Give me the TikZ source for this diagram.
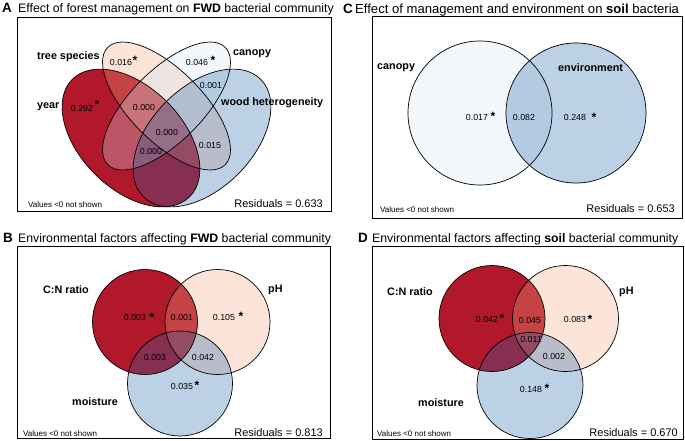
\documentclass[tikz,border=0pt]{standalone}
\usepackage{fontspec}
\setmainfont{Liberation Sans}
\definecolor{cnred}{HTML}{B2182B}
\definecolor{peach}{HTML}{F4A582}
\definecolor{paleblue}{HTML}{D1E5F0}
\definecolor{deepblue}{HTML}{2166AC}

\begin{document}
\begin{tikzpicture}[x=1pt,y=-1pt]
\tikzstyle{every node}+=[inner sep=0pt]
\tikzstyle{panel}=[font=\bfseries\fontsize{13.5}{13.5}\selectfont, anchor=base west]
\tikzstyle{title}=[font=\fontsize{12.3}{12.3}\selectfont, anchor=base west]
\tikzstyle{setlab}=[font=\bfseries\fontsize{10.8}{10.8}\selectfont, anchor=west]
\tikzstyle{val}=[font=\fontsize{8.8}{8.8}\selectfont]
\tikzstyle{sig}=[font=\bfseries\fontsize{12}{12}\selectfont, yshift=-2.9pt]
\tikzstyle{note}=[font=\fontsize{8}{8}\selectfont, anchor=base west]
\tikzstyle{resid}=[font=\fontsize{11}{11}\selectfont, anchor=base east]
\tikzstyle{frame}=[line width=0.8pt]
\tikzstyle{rim}=[line width=0.7pt]
\tikzstyle{redset}=[fill=cnred]
\tikzstyle{peachset}=[fill=peach, fill opacity=0.3]
\tikzstyle{paleset}=[fill=paleblue, fill opacity=0.3]
\tikzstyle{blueset}=[fill=deepblue, fill opacity=0.3]
\useasboundingbox (0,0) rectangle (685,440);
% panel A
\draw (2,12) node [panel] (pA) {A};
\draw (18,12) node [title] (tA) {Effect of forest management on \textbf{FWD} bacterial community};
\draw [frame] (17,17) rectangle (331,211);
\fill [redset] (131,138) ellipse [x radius=83, y radius=51, rotate=-45];
\fill [peachset] (166.5,106) ellipse [x radius=83, y radius=36, rotate=-45];
\fill [paleset] (166.5,106) ellipse [x radius=83, y radius=36, rotate=45];
\fill [blueset] (202,138) ellipse [x radius=83, y radius=51, rotate=45];
\draw [rim] (131,138) ellipse [x radius=83, y radius=51, rotate=-45];
\draw [rim] (166.5,106) ellipse [x radius=83, y radius=36, rotate=-45];
\draw [rim] (166.5,106) ellipse [x radius=83, y radius=36, rotate=45];
\draw [rim] (202,138) ellipse [x radius=83, y radius=51, rotate=45];
\draw (37,57) node [setlab] (lTree) {tree species};
\draw (233,54) node [setlab] (lCanA) {canopy};
\draw (37,107) node [setlab] (lYear) {year};
\draw (221,103) node [setlab] (lWood) {wood heterogeneity};
\draw (121,62) node [val] (vA1) {0.016};
\draw (135,57) node [sig] (sA1) {*};
\draw (197,62) node [val] (vA2) {0.046};
\draw (213,57) node [sig] (sA2) {*};
\draw (82,108) node [val] (vA3) {0.292};
\draw (97,101) node [sig] (sA3) {*};
\draw (211,85) node [val] (vA4) {0.001};
\draw (144,107) node [val] (vA5) {0.000};
\draw (167,132) node [val] (vA6) {0.000};
\draw (210,145) node [val] (vA7) {0.015};
\draw (151,151) node [val] (vA8) {0.000};
\draw (28,207) node [note] (nA) {Values <0 not shown};
\draw (323,207) node [resid] (rA) {Residuals = 0.633};
% panel C
\draw (343,13) node [panel] (pC) {C};
\draw (355,13) node [title, font=\fontsize{13.1}{13.1}\selectfont] (tC) {Effect of management and environment on \textbf{soil} bacteria};
\draw [frame] (372,16) rectangle (682,218);
\fill [paleset] (480,113) circle (72);
\fill [blueset] (576,113) circle (70);
\draw [rim] (480,113) circle (72);
\draw [rim] (576,113) circle (70);
\draw (377,68) node [setlab] (lCanC) {canopy};
\draw (558,68) node [setlab] (lEnv) {environment};
\draw (477,117) node [val] (vC1) {0.017};
\draw (493,113) node [sig] (sC1) {*};
\draw (524,117) node [val] (vC2) {0.082};
\draw (575,117) node [val] (vC3) {0.248};
\draw (594,114) node [sig] (sC3) {*};
\draw (380,212) node [note] (nC) {Values <0 not shown};
\draw (675,212) node [resid] (rC) {Residuals = 0.653};
% panel B
\draw (3,242) node [panel] (pB) {B};
\draw (18,242) node [title] (tB) {Environmental factors affecting \textbf{FWD} bacterial community};
\draw [frame] (17,246) rectangle (330,438);
\fill [redset] (145,322) circle (52.5);
\fill [peachset] (217.5,322) circle (52.5);
\fill [blueset] (180,383.5) circle (52.5);
\draw [rim] (145,322) circle (52.5);
\draw [rim] (217.5,322) circle (52.5);
\draw [rim] (180,383.5) circle (52.5);
\draw (43,290) node [setlab] (lCnB) {C:N ratio};
\draw (268,290) node [setlab] (lPhB) {pH};
\draw (72,402) node [setlab] (lMoB) {moisture};
\draw (135,317) node [val] (vB1) {0.003};
\draw (152,314) node [sig] (sB1) {*};
\draw (182,317) node [val] (vB2) {0.001};
\draw (224,317) node [val] (vB3) {0.105};
\draw (241,313) node [sig] (sB3) {*};
\draw (155,357) node [val] (vB4) {0.003};
\draw (203,357) node [val] (vB5) {0.042};
\draw (182,386) node [val] (vB6) {0.035};
\draw (197,382) node [sig] (sB6) {*};
\draw (23,436) node [note] (nB) {Values <0 not shown};
\draw (323,436) node [resid] (rB) {Residuals = 0.813};
% panel D
\draw (358,242) node [panel] (pD) {D};
\draw (372,242) node [title] (tD) {Environmental factors affecting \textbf{soil} bacterial community};
\draw [frame] (372,246) rectangle (683,439);
\fill [redset] (492,318.5) circle (53);
\fill [peachset] (565.5,318.5) circle (53);
\fill [blueset] (530,385.5) circle (53);
\draw [rim] (492,318.5) circle (53);
\draw [rim] (565.5,318.5) circle (53);
\draw [rim] (530,385.5) circle (53);
\draw (387,292) node [setlab] (lCnD) {C:N ratio};
\draw (619,292) node [setlab] (lPhD) {pH};
\draw (418,403) node [setlab] (lMoD) {moisture};
\draw (487,319) node [val] (vD1) {0.042};
\draw (502,315) node [sig] (sD1) {*};
\draw (530,320) node [val] (vD2) {0.045};
\draw (575,319) node [val] (vD3) {0.083};
\draw (590,316) node [sig] (sD3) {*};
\draw (531,339) node [val] (vD4) {0.011};
\draw (554,356) node [val] (vD5) {0.002};
\draw (531,389) node [val] (vD6) {0.148};
\draw (547,385) node [sig] (sD6) {*};
\draw (377,436) node [note] (nD) {Values <0 not shown};
\draw (678,436) node [resid] (rD) {Residuals = 0.670};
\end{tikzpicture}
\end{document}
